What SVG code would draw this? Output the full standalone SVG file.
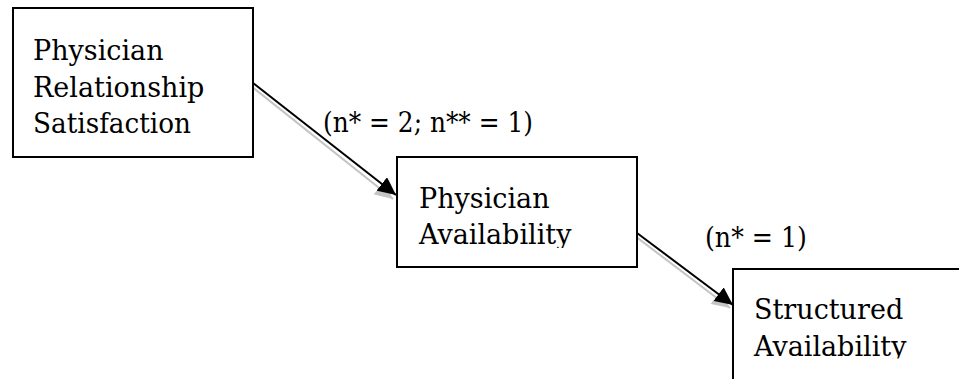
<svg xmlns="http://www.w3.org/2000/svg" width="959" height="379" viewBox="0 0 959 379">
  <style>
    .box { fill: #ffffff; stroke: #000000; stroke-width: 2; }
    .t { font-family: "DejaVu Serif", "Liberation Serif", serif; font-size: 27px; fill: #000000; }
    .edge { stroke: #000000; stroke-width: 2; fill: none; }
    .shadow { stroke: #c4c4c4; stroke-width: 2; fill: none; }
  </style>
  <defs>
    <marker id="head" markerUnits="userSpaceOnUse" markerWidth="19" markerHeight="17" refX="18" refY="8.5" orient="auto">
      <path d="M0,0 L18,8.5 L0,17 Z" fill="#000000"/>
    </marker>
    <marker id="headShadow" markerUnits="userSpaceOnUse" markerWidth="19" markerHeight="17" refX="18" refY="8.5" orient="auto">
      <path d="M0,0 L18,8.5 L0,17 Z" fill="#c4c4c4"/>
    </marker>
    <clipPath id="clip2"><rect x="398" y="158" width="238" height="90"/></clipPath>
    <clipPath id="clip3"><rect x="734" y="270" width="230" height="88.5"/></clipPath>
  </defs>
  <rect width="959" height="379" fill="#ffffff"/>

  <g id="connectors">
    <line class="shadow" x1="251" y1="86" x2="393" y2="199" marker-end="url(#headShadow)"/>
    <line class="edge" x1="253" y1="83" x2="396" y2="195" marker-end="url(#head)"/>
    <line class="shadow" x1="635" y1="236" x2="730" y2="308" marker-end="url(#headShadow)"/>
    <line class="edge" x1="637" y1="233" x2="733" y2="305" marker-end="url(#head)"/>
    <text class="t" x="323" y="132" textLength="210" lengthAdjust="spacingAndGlyphs">(n* = 2; n** = 1)</text>
    <text class="t" x="705" y="247" textLength="102" lengthAdjust="spacingAndGlyphs">(n* = 1)</text>
  </g>

  <g id="node-physician-relationship-satisfaction">
    <rect class="box" x="13" y="8" width="240" height="149"/>
    <text class="t" x="33" y="60">Physician</text>
    <text class="t" x="33" y="96.7">Relationship</text>
    <text class="t" x="33" y="133.3" textLength="158" lengthAdjust="spacingAndGlyphs">Satisfaction</text>
  </g>

  <g id="node-physician-availability">
    <rect class="box" x="397" y="157" width="240" height="110"/>
    <g clip-path="url(#clip2)">
      <text class="t" x="419" y="207.7">Physician</text>
      <text class="t" x="419" y="244.3">Availability</text>
    </g>
  </g>

  <g id="node-structured-availability">
    <rect class="box" x="733" y="269" width="280" height="120"/>
    <g clip-path="url(#clip3)">
      <text class="t" x="754" y="319.3">Structured</text>
      <text class="t" x="754" y="355.8">Availability</text>
    </g>
  </g>
</svg>
